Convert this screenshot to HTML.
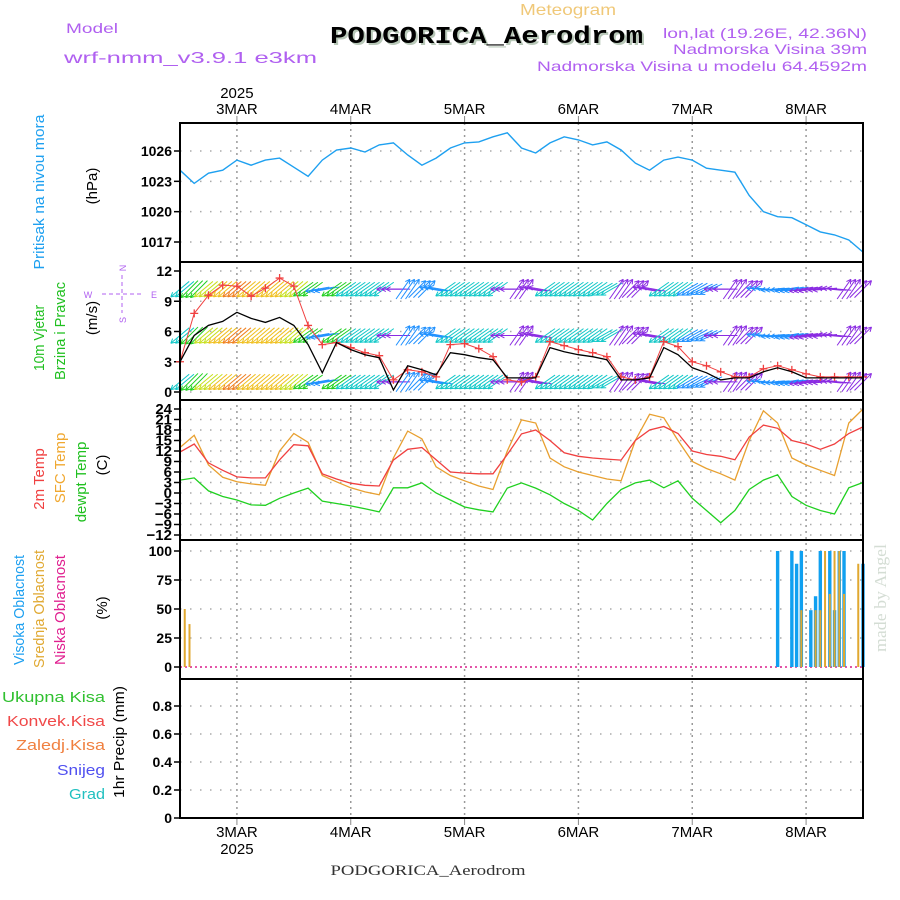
<!DOCTYPE html>
<html><head><meta charset="utf-8"><style>
html,body{margin:0;padding:0;background:#fff;}
svg{display:block;font-family:"Liberation Sans",sans-serif;}
</style></head><body>
<svg id="chart" width="900" height="900" viewBox="0 0 900 900" xmlns="http://www.w3.org/2000/svg">
<rect width="900" height="900" fill="#fff"/>
<text x="568" y="15" font-size="16" fill="#f0c878" text-anchor="middle" textLength="96">Meteogram</text>
<text x="66" y="33" font-size="14" fill="#b060f0" textLength="52">Model</text>
<text x="64" y="63" font-size="16" fill="#b060f0" textLength="253">wrf-nmm_v3.9.1 e3km</text>
<text x="332" y="45" font-family="Liberation Mono,monospace" font-weight="bold" font-size="24" fill="#b8c8b8" textLength="313">PODGORICA_Aerodrom</text>
<text x="330" y="43" font-family="Liberation Mono,monospace" font-weight="bold" font-size="24" fill="#000" textLength="313">PODGORICA_Aerodrom</text>
<text x="867" y="38" font-size="14" fill="#b060f0" text-anchor="end" textLength="204">lon,lat (19.26E, 42.36N)</text>
<text x="867" y="54" font-size="14" fill="#b060f0" text-anchor="end" textLength="194">Nadmorska Visina 39m</text>
<text x="867" y="71" font-size="14" fill="#b060f0" text-anchor="end" textLength="330">Nadmorska Visina u modelu 64.4592m</text>
<text x="428" y="875" font-family="Liberation Serif,serif" font-size="15" fill="#333" text-anchor="middle" textLength="195">PODGORICA_Aerodrom</text>
<text transform="translate(886,598) rotate(-90)" font-family="Liberation Serif,serif" font-size="17" fill="#d4ddd4" text-anchor="middle" textLength="108">made by Angel</text>

<text transform="translate(44,192) rotate(-90)" font-size="15" fill="#1ea0f0" text-anchor="middle" textLength="155">Pritisak na nivou mora</text>
<text transform="translate(97,186) rotate(-90)" font-size="15" fill="#000" text-anchor="middle">(hPa)</text>
<text transform="translate(44,338) rotate(-90)" font-size="15" fill="#20c020" text-anchor="middle" textLength="66">10m Vjetar</text>
<text transform="translate(65,331) rotate(-90)" font-size="15" fill="#20c020" text-anchor="middle" textLength="98">Brzina i Pravac</text>
<text transform="translate(97,318) rotate(-90)" font-size="15" fill="#000" text-anchor="middle">(m/s)</text>
<g fill="#b060f0" font-size="9" text-anchor="middle">
<text x="88" y="298">W</text><text x="154" y="298">E</text><text transform="translate(126,268) rotate(-90)">N</text><text transform="translate(126,320) rotate(-90)">S</text>
<line x1="102" y1="294" x2="142" y2="294" stroke="#b060f0" stroke-dasharray="4,3"/><line x1="122" y1="275" x2="122" y2="313" stroke="#b060f0" stroke-dasharray="4,3"/>
</g>
<text transform="translate(44,479) rotate(-90)" font-size="15" fill="#f04040" text-anchor="middle">2m Temp</text>
<text transform="translate(65,468) rotate(-90)" font-size="15" fill="#f0a830" text-anchor="middle">SFC Temp</text>
<text transform="translate(86,482) rotate(-90)" font-size="15" fill="#20c020" text-anchor="middle">dewpt Temp</text>
<text transform="translate(107,465) rotate(-90)" font-size="15" fill="#000" text-anchor="middle">(C)</text>
<text transform="translate(24,610) rotate(-90)" font-size="15" fill="#1ea0f0" text-anchor="middle" textLength="110">Visoka Oblacnost</text>
<text transform="translate(44,609) rotate(-90)" font-size="15" fill="#e0a830" text-anchor="middle" textLength="118">Srednja Oblacnost</text>
<text transform="translate(65,610) rotate(-90)" font-size="15" fill="#e02090" text-anchor="middle" textLength="110">Niska Oblacnost</text>
<text transform="translate(107,608) rotate(-90)" font-size="15" fill="#000" text-anchor="middle">(%)</text>
<g font-size="15" text-anchor="end">
<text x="105" y="702" fill="#30c030" textLength="103">Ukupna Kisa</text>
<text x="105" y="726" fill="#f04848" textLength="98">Konvek.Kisa</text>
<text x="105" y="750" fill="#f08040" textLength="89">Zaledj.Kisa</text>
<text x="105" y="775" fill="#5050f0" textLength="48">Snijeg</text>
<text x="105" y="799" fill="#20c0c0" textLength="36">Grad</text>
</g>
<text transform="translate(124,742) rotate(-90)" font-size="15" fill="#000" text-anchor="middle" textLength="112">1hr Precip (mm)</text>
<g id="plot"></g>
</svg>
<script>
const hours3 = [-12,-9,-6,-3,0,3,6,9,12,15,18,21,24,27,30,33,36,39,42,45,48,51,54,57,60,63,66,69,72,75,78,81,84,87,90,93,96,99,102,105,108,111,114,117,120,123,126,129,132];
const pressure = [1024.1,1022.8,1023.8,1024.1,1025.1,1024.6,1025.1,1025.3,1024.4,1023.5,1025.1,1026.1,1026.3,1025.9,1026.6,1026.8,1025.6,1024.6,1025.3,1026.3,1026.8,1026.9,1027.4,1027.8,1026.3,1025.8,1026.8,1027.4,1027.1,1026.6,1026.9,1026.1,1024.8,1024.1,1025.1,1025.4,1025.1,1024.3,1024.1,1023.9,1021.6,1020,1019.5,1019.4,1018.7,1018,1017.7,1017.2,1016];
const windSpeed = [3.0,5.6,6.6,7.0,7.9,7.3,6.9,7.4,6.6,4.7,1.9,4.9,4.2,3.7,3.4,0.2,2.6,2.2,1.7,3.9,3.7,3.4,3.2,1.4,1.4,1.4,4.4,4.0,3.7,3.5,3.2,1.2,1.2,1.4,4.4,3.7,2.4,1.9,1.2,1.4,1.4,2.0,2.4,2.0,1.4,1.4,1.4,1.4,1.4];
const windGust = [3.0,7.8,9.6,10.6,10.5,9.5,10.3,11.3,10.5,6.6,4.7,4.9,4.4,3.9,3.6,1.2,2.2,2.0,1.5,4.7,4.8,4.3,3.5,1.2,1.0,1.5,5.0,4.6,4.2,3.9,3.5,1.5,1.2,1.5,5.0,4.5,3.0,2.6,2.0,1.5,1.5,2.3,2.6,2.2,1.8,1.5,1.5,1.5,1.5];
const windDir = [50,45,50,50,50,50,50,50,50,55,80,55,55,55,55,90,215,225,100,55,55,55,55,90,215,100,55,55,55,55,60,215,225,100,55,55,60,65,90,215,225,95,85,80,80,85,95,215,225];
const temp2m = [11.7,14.0,8.6,6.5,4.6,4.3,4.3,9.5,13.8,13.5,5.5,4.0,2.8,2.2,2.0,9.4,12.5,13.0,9.5,6.0,5.7,5.5,5.5,11,16.9,18,15,11.5,10.5,10.0,9.7,9.4,15,18,19,17,12,11,10.5,9.5,16,19.4,18.5,15,14,12.5,14,17,18.9];
const tempSfc = [13,16.5,8,4.5,3.2,2.6,2.2,12,17,14.5,5,3.2,1.5,0.3,-0.5,10,17.7,15.5,7.5,5,3.5,2,1,12,20.9,20,10,7.5,6,5,4,3.5,15,22.5,21.5,15,9,7,5.5,3.7,15,23.5,20,10,8,6.5,5,20,24];
const dewpt = [3.7,4.3,0.6,-1.0,-2,-3.4,-3.5,-1.5,0,1.4,-2.3,-3,-3.7,-4.5,-5.4,1.5,1.5,2.9,0,-2,-4,-4.8,-5.4,1.4,2.9,1.4,-0.5,-3,-5,-7.7,-3,1,2.9,3.7,1.5,3.5,-1.5,-5,-8.5,-5,1,3.7,5.2,-1,-3.5,-5,-6,1.5,3];
const highCloudHours = [114,117,118,119,121,122,123,125,126,127,128,132];
const highCloud = [100,100,89,100,49,61,100,100,49,100,100,89];
const midCloudHours = [-11,-10,119,122,123,124,125,126,127,128,131];
const midCloud = [50,37,49,49,49,100,63,100,100,63,89];
const dayLabels = ["3MAR","4MAR","5MAR","6MAR","7MAR","8MAR"];
const dayHours = [0,24,48,72,96,120];
const pressureTicks = [1017,1020,1023,1026];
const windTicks = [0,3,6,9,12];
const tempTicks = [-12,-9,-6,-3,0,3,6,9,12,15,18,21,24];
const cloudTicks = [0,25,50,75,100];
const precipTicks = [0,0.2,0.4,0.6,0.8];

document.querySelectorAll('[textLength]').forEach(e=>e.setAttribute('lengthAdjust','spacingAndGlyphs'));
const NS="http://www.w3.org/2000/svg";
const plot=document.getElementById('plot');
function el(tag,attrs,parent){const e=document.createElementNS(NS,tag);for(const k in attrs)e.setAttribute(k,attrs[k]);(parent||plot).appendChild(e);return e;}
const X0=180,X1=863,H0=-12,H1=132;
const xs=h=>X0+(h-H0)*(X1-X0)/(H1-H0);
const lin=(v0,y0,v1,y1)=>v=>y0+(v-v0)*(y1-y0)/(v1-v0);
const panels=[
 {name:'pressure',top:123,bot:262,y:lin(1026,151,1017,242),ticks:pressureTicks,fmt:v=>String(v),fs:14},
 {name:'wind',top:262,bot:400,y:lin(0,392,12,271),ticks:windTicks,fmt:v=>String(v),fs:14},
 {name:'temp',top:400,bot:540,y:lin(24,409,-12,535),ticks:tempTicks,fmt:v=>String(v).replace('-','\u2212'),fs:15},
 {name:'cloud',top:540,bot:679,y:lin(0,667,100,551),ticks:cloudTicks,fmt:v=>String(v),fs:14},
 {name:'precip',top:679,bot:818,y:lin(0,818,0.8,706),ticks:precipTicks,fmt:v=>String(v),fs:14}
];
panels.forEach(p=>{
 const g=el('g',{});
 
 
 p.ticks.forEach(t=>{
  const y=p.y(t);
  const gl=el('line',{x1:X0,x2:X1,y1:y,y2:y,stroke:'#aaa','stroke-width':1.5,'stroke-dasharray':'1.5,8.5'},g);
  
  
  el('line',{x1:X0-6,x2:X0,y1:y,y2:y,stroke:'#000','stroke-width':1.5},g);
  const tx=el('text',{x:X0-8,y:y+5,'font-size':p.fs,'text-anchor':'end',fill:'#000','font-weight':'bold'},g);
  
  
  tx.textContent=p.fmt(t);
 });
});
dayHours.forEach((d,i)=>{
 const x=xs(d);
 const vl=el('line',{x1:x,x2:x,y1:123,y2:818,stroke:'#999','stroke-width':1.5,'stroke-dasharray':'2,4'});
 
 
 el('line',{x1:x,x2:x,y1:116,y2:123,stroke:'#888'});
 el('line',{x1:x,x2:x,y1:818,y2:825,stroke:'#888'});
 const t=el('text',{x:x,y:114,'font-size':15,'text-anchor':'middle',fill:'#000'});
 
 
 t.textContent=dayLabels[i];
 const b=el('text',{x:x,y:837,'font-size':15,'text-anchor':'middle',fill:'#000'});
 
 
 b.textContent=dayLabels[i];
});
const y1=el('text',{x:xs(0),y:98,'font-size':15,'text-anchor':'middle'});y1.textContent='2025';


const y2=el('text',{x:xs(0),y:854,'font-size':15,'text-anchor':'middle'});y2.textContent='2025';



function poly(vals,yf,color,name,w){
 const pts=hours3.map((h,i)=>xs(h).toFixed(1)+','+yf(vals[i]).toFixed(1)).join(' ');
 const p=el('polyline',{points:pts,fill:'none',stroke:color,'stroke-width':w||1.3});
 
 
 return p;
}
poly(pressure,panels[0].y,'#1ea0f0','pressure-line',1.4);
function spdColor(s){
 if(s<1.6)return '#8a2be2';
 if(s<2.8)return '#1e90ff';
 if(s<4.6)return '#10c8c8';
 if(s<5.8)return '#20d020';
 if(s<6.8)return '#c8e020';
 if(s<7.5)return '#f0c020';
 return '#f08020';
}
const wy=panels[1].y;
const rowLevels=[10.2,5.6,1.0];
const wg=el('g',{});


for(let h=H0;h<=H1;h++){
 const i=Math.min(hours3.length-1,Math.round((h-H0)/3));
 const d=windDir[i]*Math.PI/180;
 const dx=-Math.sin(d),dy=Math.cos(d);
 const c=spdColor(windSpeed[i]);
 const L=24;
 rowLevels.forEach(lv=>{
  const cx=xs(h),cy=wy(lv);
  const x1=cx-dx*L/2,yA=cy-dy*L/2,x2=cx+dx*L/2,yB=cy+dy*L/2;
  el('line',{x1:x1,y1:yA,x2:x2,y2:yB,stroke:c,'stroke-width':1},wg);
  const a=Math.atan2(dy,dx);
  [0.5,-0.5].forEach(o=>{
   el('line',{x1:x2,y1:yB,x2:x2-5*Math.cos(a+o),y2:yB-5*Math.sin(a+o),stroke:c,'stroke-width':1},wg);
  });
 });
}
poly(windGust,wy,'#f04040','wind-gust-line',1);
const cg=el('g',{});


hours3.forEach((h,i)=>{
 const x=xs(h),y=wy(windGust[i]);
 el('path',{d:`M${x-4},${y}H${x+4}M${x},${y-4}V${y+4}`,stroke:'#f04040','stroke-width':1.3},cg);
});
poly(windSpeed,wy,'#000','wind-speed-line',1.3);
const ty=panels[2].y;
poly(tempSfc,ty,'#e8a030','sfc-temp-line',1.3);
poly(temp2m,ty,'#f04040','temp-2m-line',1.3);
poly(dewpt,ty,'#20d020','dewpoint-line',1.3);
const cy=panels[3].y;
el('line',{x1:X0,x2:X1,y1:cy(0),y2:cy(0),stroke:'#e02090','stroke-width':1.5,'stroke-dasharray':'2,3'});
highCloudHours.forEach((h,i)=>{
 const b=el('rect',{x:xs(h)-1.7,y:cy(highCloud[i]),width:3.4,height:cy(0)-cy(highCloud[i]),fill:'#10a0f0'});
 
 
});
midCloudHours.forEach((h,i)=>{
 const b=el('rect',{x:xs(h)-1,y:cy(midCloud[i]),width:2,height:cy(0)-cy(midCloud[i]),fill:'#e0a830'});
 
 
});
panels.forEach(p=>{
 const r=el('rect',{x:X0,y:p.top,width:X1-X0,height:p.bot-p.top,fill:'none',stroke:'#000','stroke-width':2});
 
 
});
</script>
</body></html>
